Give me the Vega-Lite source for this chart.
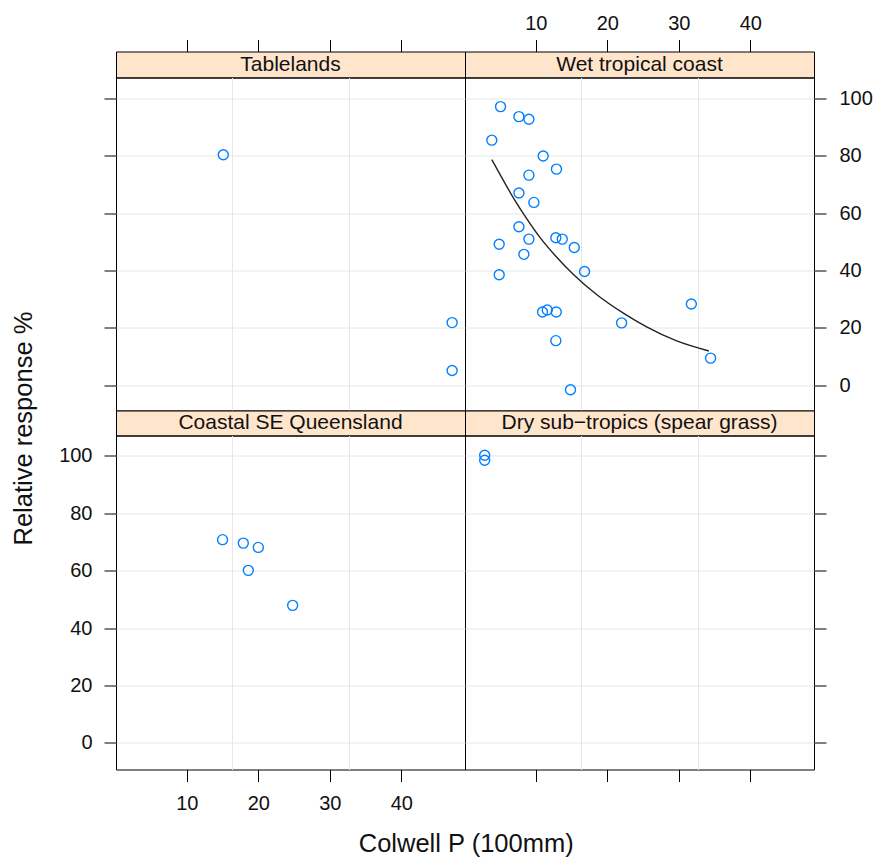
{
  "$schema": "https://vega.github.io/schema/vega-lite/v6.json",
  "padding": {"left": 10, "top": 12.5, "right": 5, "bottom": 5},
  "background": "white",
  "config": {
    "font": "Liberation Sans",
    "view": {"stroke": "#000", "strokeWidth": 1},
    "axis": {"domain": false, "tickColor": "#000", "tickSize": 12, "tickWidth": 1, "labelFont": "Liberation Sans", "labelFontSize": 20, "labelColor": "#111", "titleFont": "Liberation Sans", "titleFontSize": 25.5, "titleFontWeight": "normal", "titleColor": "#111", "gridColor": "#e6e6e6", "gridWidth": 1, "gridOpacity": 1, "labelOverlap": false, "labelFlush": false}
  },
  "datasets": {
    "strips": [
      {"site": "Tablelands"},
      {"site": "Wet tropical coast"},
      {"site": "Coastal SE Queensland"},
      {"site": "Dry sub−tropics (spear grass)"}
    ],
    "pts": [
      {"site": "Tablelands", "P": 15.1, "resp": 80.3},
      {"site": "Tablelands", "P": 47.1, "resp": 21.8},
      {"site": "Tablelands", "P": 47.1, "resp": 5.1},
      {"site": "Wet tropical coast", "P": 5.07, "resp": 97.1},
      {"site": "Wet tropical coast", "P": 7.64, "resp": 93.6},
      {"site": "Wet tropical coast", "P": 9.04, "resp": 92.7},
      {"site": "Wet tropical coast", "P": 3.85, "resp": 85.4},
      {"site": "Wet tropical coast", "P": 11.03, "resp": 79.9},
      {"site": "Wet tropical coast", "P": 12.89, "resp": 75.3},
      {"site": "Wet tropical coast", "P": 9.04, "resp": 73.2},
      {"site": "Wet tropical coast", "P": 7.64, "resp": 67.0},
      {"site": "Wet tropical coast", "P": 9.73, "resp": 63.7},
      {"site": "Wet tropical coast", "P": 7.64, "resp": 55.2},
      {"site": "Wet tropical coast", "P": 12.8, "resp": 51.4},
      {"site": "Wet tropical coast", "P": 13.7, "resp": 50.9},
      {"site": "Wet tropical coast", "P": 9.04, "resp": 50.9},
      {"site": "Wet tropical coast", "P": 4.88, "resp": 49.1},
      {"site": "Wet tropical coast", "P": 15.38, "resp": 48.0},
      {"site": "Wet tropical coast", "P": 8.33, "resp": 45.6},
      {"site": "Wet tropical coast", "P": 16.82, "resp": 39.6},
      {"site": "Wet tropical coast", "P": 4.88, "resp": 38.5},
      {"site": "Wet tropical coast", "P": 31.75, "resp": 28.3},
      {"site": "Wet tropical coast", "P": 10.94, "resp": 25.5},
      {"site": "Wet tropical coast", "P": 11.6, "resp": 26.2},
      {"site": "Wet tropical coast", "P": 12.86, "resp": 25.5},
      {"site": "Wet tropical coast", "P": 22.0, "resp": 21.7},
      {"site": "Wet tropical coast", "P": 12.8, "resp": 15.5},
      {"site": "Wet tropical coast", "P": 34.44, "resp": 9.4},
      {"site": "Wet tropical coast", "P": 14.85, "resp": -1.6},
      {"site": "Coastal SE Queensland", "P": 15.0, "resp": 70.8},
      {"site": "Coastal SE Queensland", "P": 17.9, "resp": 69.6},
      {"site": "Coastal SE Queensland", "P": 20.0, "resp": 68.1},
      {"site": "Coastal SE Queensland", "P": 18.6, "resp": 60.1},
      {"site": "Coastal SE Queensland", "P": 24.8, "resp": 47.9},
      {"site": "Dry sub−tropics (spear grass)", "P": 2.85, "resp": 100.2},
      {"site": "Dry sub−tropics (spear grass)", "P": 2.85, "resp": 98.5}
    ],
    "fit": [
      {"P": 3.85, "resp": 78.6},
      {"P": 5.5, "resp": 71.2},
      {"P": 7.1, "resp": 64.3},
      {"P": 8.7, "resp": 58.1},
      {"P": 10.6, "resp": 51.4},
      {"P": 12.7, "resp": 45.2},
      {"P": 15.3, "resp": 38.5},
      {"P": 18.5, "resp": 31.6},
      {"P": 22.3, "resp": 25.0},
      {"P": 25.5, "resp": 20.3},
      {"P": 29.7, "resp": 15.4},
      {"P": 34.2, "resp": 11.9}
    ]
  },
  "columns": 2,
  "spacing": 0,
  "bounds": "flush",
  "concat": [
    {
      "width": 349, "height": 26,
      "view": {"fill": "#ffe5cc", "stroke": "#000"},
      "data": {"name": "strips"},
      "transform": [{"filter": "datum.site === 'Tablelands'"}],
      "mark": {"type": "text", "fontSize": 21, "font": "Liberation Sans", "color": "#111"},
      "encoding": {"text": {"field": "site"}}
    },
    {
      "width": 349, "height": 26,
      "view": {"fill": "#ffe5cc", "stroke": "#000"},
      "data": {"name": "strips"},
      "transform": [{"filter": "datum.site === 'Wet tropical coast'"}],
      "mark": {"type": "text", "fontSize": 21, "font": "Liberation Sans", "color": "#111"},
      "encoding": {"text": {"field": "site"}}
    },
    {
      "width": 349, "height": 333,
      "resolve": {"axis": {"x": "independent", "y": "independent"}},
      "layer": [
        {
          "data": {"name": "pts"},
          "transform": [{"filter": "datum.site === 'Tablelands'"}],
          "mark": {"type": "point", "filled": false, "color": "#0080ff", "strokeWidth": 1.4, "size": 100, "opacity": 1},
          "encoding": {
            "x": {"field": "P", "type": "quantitative", "scale": {"domain": [0.1, 48.9], "nice": false, "zero": false},
                  "axis": {"orient": "top", "offset": 26, "values": [10, 20, 30, 40], "labels": false, "grid": false, "ticks": true, "title": null}},
            "y": {"field": "resp", "type": "quantitative", "scale": {"domain": [-8.85, 107.25], "nice": false, "zero": false},
                  "axis": {"orient": "left", "values": [0, 20, 40, 60, 80, 100], "labels": false, "grid": true, "ticks": true, "title": null}}
          }
        },
        {
          "data": {"name": "pts"},
          "transform": [{"filter": "datum.site === 'Tablelands'"}],
          "mark": {"type": "point", "opacity": 0},
          "encoding": {
            "x": {"field": "P", "type": "quantitative", "scale": {"domain": [0.1, 48.9], "nice": false, "zero": false},
                  "axis": {"orient": "bottom", "values": [16.37, 32.63], "grid": true, "ticks": false, "labels": false, "title": null}},
            "y": {"field": "resp", "type": "quantitative", "scale": {"domain": [-8.85, 107.25], "nice": false, "zero": false}, "axis": null}
          }
        }
      ]
    },
    {
      "width": 349, "height": 333,
      "resolve": {"axis": {"x": "independent", "y": "independent"}},
      "layer": [
        {
          "data": {"name": "pts"},
          "transform": [{"filter": "datum.site === 'Wet tropical coast'"}],
          "mark": {"type": "point", "filled": false, "color": "#0080ff", "strokeWidth": 1.4, "size": 100, "opacity": 1},
          "encoding": {
            "x": {"field": "P", "type": "quantitative", "scale": {"domain": [0.1, 48.9], "nice": false, "zero": false},
                  "axis": {"orient": "top", "offset": 26, "values": [10, 20, 30, 40], "labels": true, "labelBaseline": "alphabetic", "labelPadding": 10, "grid": false, "ticks": true, "title": null}},
            "y": {"field": "resp", "type": "quantitative", "scale": {"domain": [-8.85, 107.25], "nice": false, "zero": false},
                  "axis": {"orient": "right", "values": [0, 20, 40, 60, 80, 100], "labels": true, "labelPadding": 13, "grid": true, "ticks": true, "title": null}}
          }
        },
        {
          "data": {"name": "pts"},
          "transform": [{"filter": "datum.site === 'Wet tropical coast'"}],
          "mark": {"type": "point", "opacity": 0},
          "encoding": {
            "x": {"field": "P", "type": "quantitative", "scale": {"domain": [0.1, 48.9], "nice": false, "zero": false},
                  "axis": {"orient": "bottom", "values": [16.37, 32.63], "grid": true, "ticks": false, "labels": false, "title": null}},
            "y": {"field": "resp", "type": "quantitative", "scale": {"domain": [-8.85, 107.25], "nice": false, "zero": false}, "axis": null}
          }
        },
        {
          "data": {"name": "fit"},
          "mark": {"type": "line", "color": "#222", "strokeWidth": 1.4, "interpolate": "monotone"},
          "encoding": {
            "x": {"field": "P", "type": "quantitative", "scale": {"domain": [0.1, 48.9], "nice": false, "zero": false}, "axis": null},
            "y": {"field": "resp", "type": "quantitative", "scale": {"domain": [-8.85, 107.25], "nice": false, "zero": false}, "axis": null}
          }
        }
      ]
    },
    {
      "width": 349, "height": 25,
      "view": {"fill": "#ffe5cc", "stroke": "#000"},
      "data": {"name": "strips"},
      "transform": [{"filter": "datum.site === 'Coastal SE Queensland'"}],
      "mark": {"type": "text", "fontSize": 21, "font": "Liberation Sans", "color": "#111"},
      "encoding": {"text": {"field": "site"}}
    },
    {
      "width": 349, "height": 25,
      "view": {"fill": "#ffe5cc", "stroke": "#000"},
      "data": {"name": "strips"},
      "transform": [{"filter": "datum.site === 'Dry sub−tropics (spear grass)'"}],
      "mark": {"type": "text", "fontSize": 21, "font": "Liberation Sans", "color": "#111"},
      "encoding": {"text": {"field": "site"}}
    },
    {
      "width": 349, "height": 334,
      "resolve": {"axis": {"x": "independent", "y": "independent"}},
      "layer": [
        {
          "data": {"name": "pts"},
          "transform": [{"filter": "datum.site === 'Coastal SE Queensland'"}],
          "mark": {"type": "point", "filled": false, "color": "#0080ff", "strokeWidth": 1.4, "size": 100, "opacity": 1},
          "encoding": {
            "x": {"field": "P", "type": "quantitative", "scale": {"domain": [0.1, 48.9], "nice": false, "zero": false},
                  "axis": {"orient": "bottom", "values": [10, 20, 30, 40], "labels": true, "labelBaseline": "alphabetic", "labelPadding": 28, "grid": false, "ticks": true,
                           "title": "Colwell P (100mm)", "titleX": 349.7, "titleY": 82, "titleBaseline": "alphabetic", "titleAlign": "center", "titleAngle": 0}},
            "y": {"field": "resp", "type": "quantitative", "scale": {"domain": [-9.3, 107.1], "nice": false, "zero": false},
                  "axis": {"orient": "left", "values": [0, 20, 40, 60, 80, 100], "labels": true, "labelPadding": 12, "grid": true, "ticks": true,
                           "title": "Relative response %", "titleX": -85, "titleY": -7.4, "titleBaseline": "alphabetic", "titleAlign": "center", "titleAngle": -90}}
          }
        },
        {
          "data": {"name": "pts"},
          "transform": [{"filter": "datum.site === 'Coastal SE Queensland'"}],
          "mark": {"type": "point", "opacity": 0},
          "encoding": {
            "x": {"field": "P", "type": "quantitative", "scale": {"domain": [0.1, 48.9], "nice": false, "zero": false},
                  "axis": {"orient": "top", "values": [16.37, 32.63], "grid": true, "ticks": false, "labels": false, "title": null}},
            "y": {"field": "resp", "type": "quantitative", "scale": {"domain": [-9.3, 107.1], "nice": false, "zero": false}, "axis": null}
          }
        }
      ]
    },
    {
      "width": 349, "height": 334,
      "resolve": {"axis": {"x": "independent", "y": "independent"}},
      "layer": [
        {
          "data": {"name": "pts"},
          "transform": [{"filter": "datum.site === 'Dry sub−tropics (spear grass)'"}],
          "mark": {"type": "point", "filled": false, "color": "#0080ff", "strokeWidth": 1.4, "size": 100, "opacity": 1},
          "encoding": {
            "x": {"field": "P", "type": "quantitative", "scale": {"domain": [0.1, 48.9], "nice": false, "zero": false},
                  "axis": {"orient": "bottom", "values": [10, 20, 30, 40], "labels": false, "grid": false, "ticks": true, "title": null}},
            "y": {"field": "resp", "type": "quantitative", "scale": {"domain": [-9.3, 107.1], "nice": false, "zero": false},
                  "axis": {"orient": "right", "values": [0, 20, 40, 60, 80, 100], "labels": false, "grid": true, "ticks": true, "title": null}}
          }
        },
        {
          "data": {"name": "pts"},
          "transform": [{"filter": "datum.site === 'Dry sub−tropics (spear grass)'"}],
          "mark": {"type": "point", "opacity": 0},
          "encoding": {
            "x": {"field": "P", "type": "quantitative", "scale": {"domain": [0.1, 48.9], "nice": false, "zero": false},
                  "axis": {"orient": "top", "values": [16.37, 32.63], "grid": true, "ticks": false, "labels": false, "title": null}},
            "y": {"field": "resp", "type": "quantitative", "scale": {"domain": [-9.3, 107.1], "nice": false, "zero": false}, "axis": null}
          }
        }
      ]
    }
  ]
}
